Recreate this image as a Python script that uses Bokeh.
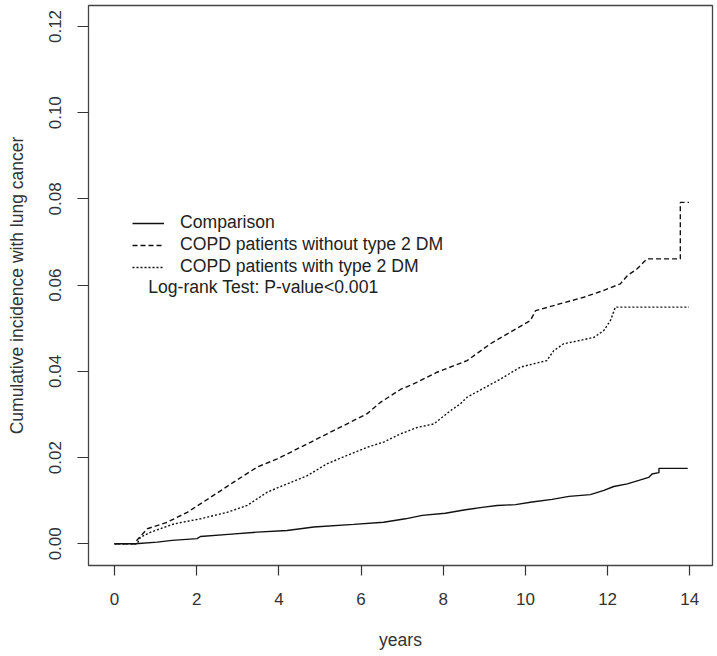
from bokeh.plotting import figure
from bokeh.models import Range1d, FixedTicker, NumeralTickFormatter, Legend, LegendItem, Label
from bokeh.embed import file_html
from bokeh.resources import INLINE

# Comparison (solid) - curve vertices
comp_t = [0, 0.51, 1.04, 1.40, 2.01, 2.09, 2.77, 3.47, 4.20, 4.85, 5.82, 6.55, 7.08, 7.49, 8.05,
          8.54, 8.99, 9.31, 9.76, 10.16, 10.65, 11.06, 11.58, 11.91, 12.15, 12.48, 12.76, 13.00,
          13.08, 13.25, 13.25, 13.95]
comp_v = [0, 0, 0.0004, 0.0008, 0.0012, 0.0017, 0.0022, 0.0027, 0.0031, 0.0039, 0.0045, 0.0050,
          0.0058, 0.0066, 0.0071, 0.0079, 0.0085, 0.0089, 0.0091, 0.0097, 0.0103, 0.0110, 0.0114,
          0.0124, 0.0133, 0.0139, 0.0147, 0.0154, 0.0162, 0.0165, 0.0175, 0.0175]

# COPD patients without type 2 DM (dashed)
nodm_t = [0, 0.51, 0.55, 0.80, 1.28, 1.77, 2.34, 2.90, 3.47, 3.96, 4.61, 5.34, 6.15, 6.47, 6.96,
          7.37, 7.85, 8.58, 9.15, 9.56, 10.12, 10.25, 10.85, 11.42, 11.91, 12.31, 12.48, 12.72,
          12.96, 13.77, 13.77, 13.98]
nodm_v = [0, 0, 0.0009, 0.0035, 0.0050, 0.0073, 0.0108, 0.0143, 0.0178, 0.0197, 0.0228,
          0.0263, 0.0302, 0.0328, 0.0358, 0.0375, 0.0398, 0.0425, 0.0464, 0.0487, 0.0518, 0.0541,
          0.0557, 0.0572, 0.0588, 0.0603, 0.0622, 0.0638, 0.0661, 0.0661, 0.0792, 0.0792]

# COPD patients with type 2 DM (dotted)
dm_t = [0, 0.55, 0.63, 0.88, 1.44, 2.09, 2.74, 3.23, 3.72, 4.20, 4.69, 5.18, 5.66, 6.15, 6.55,
        6.96, 7.37, 7.77, 8.18, 8.42, 8.58, 9.39, 9.88, 10.52, 10.69, 10.93, 11.34, 11.67, 11.91,
        12.07, 12.19, 13.98]
dm_v = [0, 0, 0.0015, 0.0027, 0.0046, 0.0058, 0.0073, 0.0089, 0.0120, 0.0139, 0.0158,
        0.0186, 0.0205, 0.0224, 0.0236, 0.0255, 0.0270, 0.0278, 0.0309, 0.0325, 0.0340, 0.0382,
        0.0410, 0.0425, 0.0448, 0.0464, 0.0472, 0.0479, 0.0495, 0.0518, 0.0549, 0.0549]

x_ticks = [0, 2, 4, 6, 8, 10, 12, 14]
y_ticks = [0.0, 0.02, 0.04, 0.06, 0.08, 0.10, 0.12]
labels = ["Comparison", "COPD patients without type 2 DM", "COPD patients with type 2 DM"]
test_text = "Log-rank Test: P-value<0.001"

FONT = "Liberation Sans"
TXT = "#333333"

p = figure(width=717, height=656, output_backend="svg", toolbar_location=None,
           x_range=Range1d(-0.633, 14.553), y_range=Range1d(-0.00503, 0.12487),
           min_border_left=88, min_border_right=5, min_border_top=5, min_border_bottom=91)
p.grid.visible = False
p.outline_line_color = "#444444"
p.outline_line_width = 1.3
p.background_fill_color = "white"
p.border_fill_color = "white"

for ax in (p.xaxis[0], p.yaxis[0]):
    ax.axis_line_color = None
    ax.major_tick_in = 0
    ax.major_tick_line_color = "#333333"
    ax.major_tick_line_width = 1.2
    ax.minor_tick_line_color = None
    ax.major_label_text_font = FONT
    ax.major_label_text_font_size = "17px"
    ax.major_label_text_color = TXT
    ax.axis_label_text_font = FONT
    ax.axis_label_text_font_size = "17.5px"
    ax.axis_label_text_font_style = "normal"
    ax.axis_label_text_color = TXT

p.xaxis[0].ticker = FixedTicker(ticks=x_ticks)
p.xaxis[0].major_tick_out = 10
p.xaxis[0].major_label_standoff = 17
p.xaxis[0].axis_label = "years"
p.xaxis[0].axis_label_standoff = 22

p.yaxis[0].ticker = FixedTicker(ticks=y_ticks)
p.yaxis[0].formatter = NumeralTickFormatter(format="0.00")
p.yaxis[0].major_tick_out = 11
p.yaxis[0].major_label_standoff = 16
p.yaxis[0].major_label_orientation = "vertical"
p.yaxis[0].axis_label = "Cumulative incidence with lung cancer"
p.yaxis[0].axis_label_standoff = 20

r1 = p.line(comp_t, comp_v, line_color="#111111", line_width=1.4)
r2 = p.line(nodm_t, nodm_v, line_color="#111111", line_width=1.4, line_dash="5 3")
r3 = p.line(dm_t, dm_v, line_color="#111111", line_width=1.4, line_dash="2 2")

legend = Legend(items=[LegendItem(label=labels[0], renderers=[r1]),
                       LegendItem(label=labels[1], renderers=[r2]),
                       LegendItem(label=labels[2], renderers=[r3])],
                location=(44, 288), orientation="vertical",
                padding=0, margin=0, spacing=1,
                glyph_width=32, glyph_height=20, label_height=20, label_standoff=16,
                label_text_font=FONT, label_text_font_size="17.6px", label_text_color="#222222",
                border_line_alpha=0, background_fill_alpha=0)
p.add_layout(legend)

p.add_layout(Label(x=0.82, y=0.0595, text=test_text, text_align="left", text_baseline="middle",
                   text_font=FONT, text_font_size="17.6px", text_color="#222222"))

open("out.html", "w").write(file_html(p, INLINE))
